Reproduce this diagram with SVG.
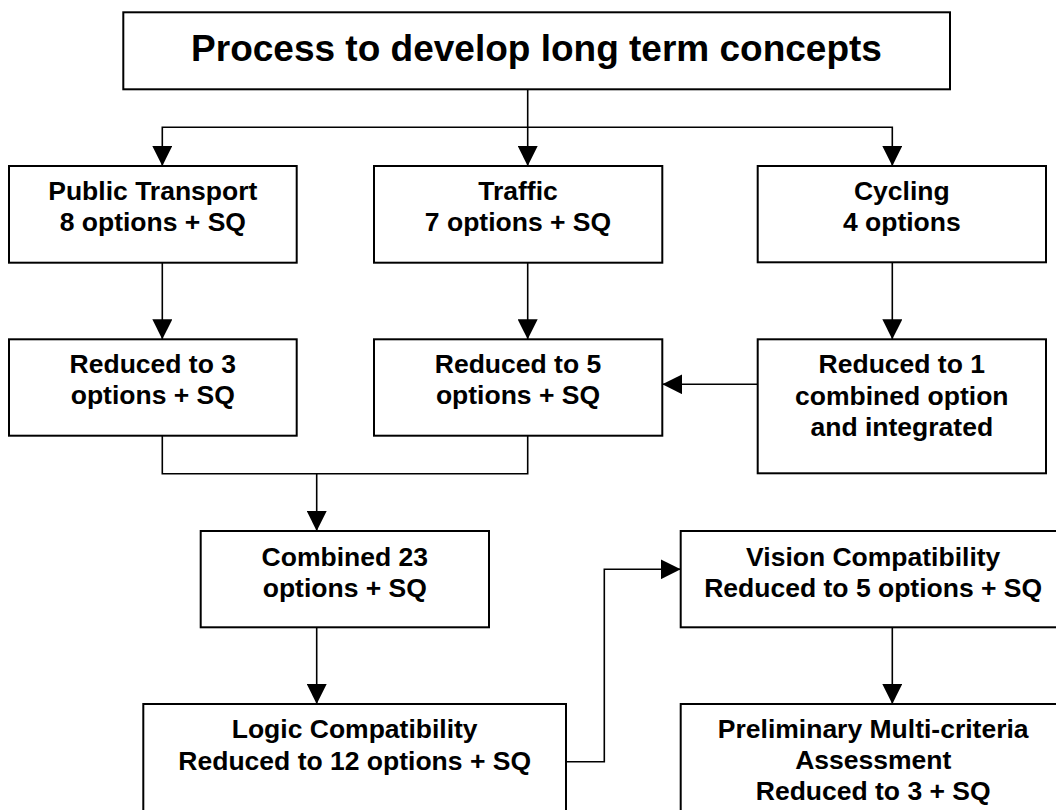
<svg xmlns="http://www.w3.org/2000/svg" width="1056" height="810" viewBox="0 0 1056 810">
<style>
.box{fill:#fff;stroke:#000;stroke-width:2}
.t{font-family:"Liberation Sans",Arial,sans-serif;font-weight:bold;font-size:26.5px;text-anchor:middle;fill:#000}
.title{font-size:37px}
.c{fill:none;stroke:#000;stroke-width:1.6}
</style>
<defs>
<marker id="ah" markerUnits="userSpaceOnUse" markerWidth="20" markerHeight="20" refX="20" refY="10" orient="auto">
<path d="M0,0 L20,10 L0,20 z" fill="#000"/>
</marker>
</defs>
<rect width="1056" height="810" fill="#fff"/>
<g id="connectors">
<path class="c" d="M527.7,89 V166" marker-end="url(#ah)"/>
<path class="c" d="M527.7,127.3 H162.3 V166" marker-end="url(#ah)"/>
<path class="c" d="M527.7,127.3 H892.3 V166" marker-end="url(#ah)"/>
<path class="c" d="M162.3,262.7 V339.3" marker-end="url(#ah)"/>
<path class="c" d="M527.7,262.7 V339.3" marker-end="url(#ah)"/>
<path class="c" d="M892.3,262.3 V339.3" marker-end="url(#ah)"/>
<path class="c" d="M757.7,384.3 H662.3" marker-end="url(#ah)"/>
<path class="c" d="M162.3,435.7 V473.7 H527.7 V435.7"/>
<path class="c" d="M316.7,473.7 V531" marker-end="url(#ah)"/>
<path class="c" d="M316.7,627.3 V704" marker-end="url(#ah)"/>
<path class="c" d="M566,761.7 H604.3 V569.3 H680.7" marker-end="url(#ah)"/>
<path class="c" d="M892.3,627.3 V704" marker-end="url(#ah)"/>
</g>
<g id="title">
<rect class="box" x="123.3" y="12.3" width="826.7" height="77"/>
<text class="t title" x="536.5" y="61">Process to develop long term concepts</text>
</g>
<g id="public-transport">
<rect class="box" x="9" y="166" width="287.7" height="96.7"/>
<text class="t" x="152.8" y="200">Public Transport</text>
<text class="t" x="152.8" y="231">8 options + SQ</text>
</g>
<g id="traffic">
<rect class="box" x="374" y="166" width="288.3" height="96.7"/>
<text class="t" x="518" y="200">Traffic</text>
<text class="t" x="518" y="231">7 options + SQ</text>
</g>
<g id="cycling">
<rect class="box" x="757.7" y="166" width="288.3" height="96.3"/>
<text class="t" x="901.8" y="200">Cycling</text>
<text class="t" x="901.8" y="231">4 options</text>
</g>
<g id="reduced-3">
<rect class="box" x="9" y="339.3" width="287.7" height="96.4"/>
<text class="t" x="152.8" y="373">Reduced to 3</text>
<text class="t" x="152.8" y="404">options + SQ</text>
</g>
<g id="reduced-5">
<rect class="box" x="374" y="339.3" width="288.3" height="96.4"/>
<text class="t" x="518" y="373">Reduced to 5</text>
<text class="t" x="518" y="404">options + SQ</text>
</g>
<g id="reduced-1">
<rect class="box" x="757.7" y="339.3" width="288.3" height="134"/>
<text class="t" x="901.8" y="373">Reduced to 1</text>
<text class="t" x="901.8" y="404.5">combined option</text>
<text class="t" x="901.8" y="436">and integrated</text>
</g>
<g id="combined">
<rect class="box" x="200.7" y="531" width="288.3" height="96.3"/>
<text class="t" x="344.8" y="565.5">Combined 23</text>
<text class="t" x="344.8" y="596.5">options + SQ</text>
</g>
<g id="logic">
<rect class="box" x="143.3" y="704" width="422.7" height="130"/>
<text class="t" x="354.7" y="738">Logic Compatibility</text>
<text class="t" x="354.7" y="770">Reduced to 12 options + SQ</text>
</g>
<g id="vision">
<rect class="box" x="680.7" y="531" width="385" height="96.3"/>
<text class="t" x="873.2" y="565.5">Vision Compatibility</text>
<text class="t" x="873.2" y="596.5">Reduced to 5 options + SQ</text>
</g>
<g id="preliminary">
<rect class="box" x="680.7" y="704" width="385" height="130"/>
<text class="t" x="873.2" y="738">Preliminary Multi-criteria</text>
<text class="t" x="873.2" y="769">Assessment</text>
<text class="t" x="873.2" y="800">Reduced to 3 + SQ</text>
</g>
</svg>
